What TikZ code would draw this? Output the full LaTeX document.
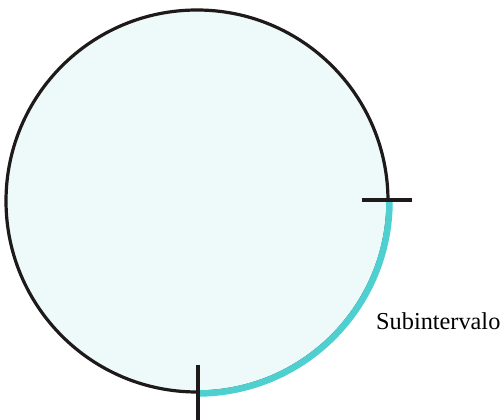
\documentclass[tikz,border=0pt]{standalone}
\usepackage{fontspec}
\setmainfont{Liberation Serif}
\definecolor{fillc}{HTML}{EEFAFA}
\definecolor{arcc}{HTML}{4ECFD0}
\definecolor{ink}{HTML}{1E1A1A}
\begin{document}
\begin{tikzpicture}[x=1pt,y=1pt,
  rim/.style={draw=ink, line width=3.2pt, fill=fillc},
  sub/.style={draw=arcc, line width=6.5pt},
  tickmark/.style={draw=ink, line width=4pt},
  lbl/.style={font=\fontsize{24.3}{28}\selectfont, inner sep=0pt, anchor=base west}]
\useasboundingbox (0,0) rectangle (503,420);
\coordinate (c) at (197,219);
\draw[rim] (c) circle[radius=191pt];
\draw[sub] ([xshift=192.5pt]c) arc[start angle=0, end angle=-90, radius=192.5pt];
\coordinate (t1a) at (362,220);
\coordinate (t1b) at (412,220);
\coordinate (t2a) at (198,55);
\coordinate (t2b) at (198,0);
\draw[tickmark] (t1a) -- (t1b);
\draw[tickmark] (t2a) -- (t2b);
\node[lbl] (lab) at (376,90) {Subintervalo};
\end{tikzpicture}
\end{document}
